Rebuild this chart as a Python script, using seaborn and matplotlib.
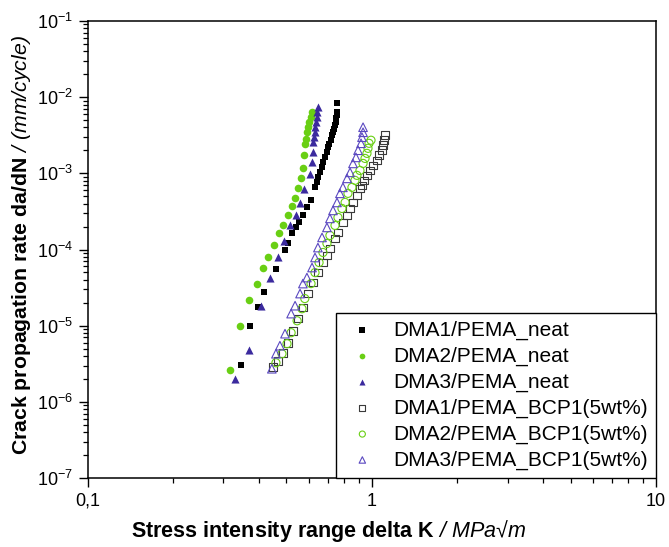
import numpy as np
import matplotlib
matplotlib.use("Agg")
import matplotlib.pyplot as plt
import seaborn as sns

# ---------------- data ----------------
labels = ["DMA1/PEMA_neat", "DMA2/PEMA_neat", "DMA3/PEMA_neat",
          "DMA1/PEMA_BCP1(5wt%)", "DMA2/PEMA_BCP1(5wt%)", "DMA3/PEMA_BCP1(5wt%)"]

dma1_neat_dk = [0.346, 0.372, 0.396, 0.418, 0.458, 0.494, 0.507, 0.524, 0.540, 0.553, 0.573,
                0.589, 0.610, 0.630, 0.639, 0.647, 0.656, 0.665, 0.674, 0.683, 0.692, 0.701,
                0.707, 0.715, 0.724, 0.730, 0.736, 0.740, 0.745, 0.746, 0.751, 0.751, 0.755]
dma1_neat_rate = [3.07e-6, 1.0e-5, 1.74e-5, 2.74e-5, 5.57e-5, 1.0e-4, 1.21e-4, 1.64e-4, 1.95e-4,
                  2.29e-4, 2.80e-4, 3.60e-4, 4.41e-4, 6.61e-4, 7.69e-4, 8.94e-4, 1.04e-3, 1.21e-3,
                  1.41e-3, 1.64e-3, 1.91e-3, 2.22e-3, 2.46e-3, 2.78e-3, 3.16e-3, 3.49e-3, 3.87e-3,
                  4.28e-3, 4.73e-3, 5.25e-3, 5.79e-3, 6.41e-3, 8.26e-3]

dma2_neat_dk = [0.316, 0.342, 0.369, 0.393, 0.414, 0.432, 0.453, 0.471, 0.487, 0.507, 0.521,
                0.536, 0.548, 0.561, 0.570, 0.576, 0.580, 0.585, 0.592, 0.596, 0.601, 0.608, 0.613]
dma2_neat_rate = [2.64e-6, 1.0e-5, 2.18e-5, 3.54e-5, 5.74e-5, 8.09e-5, 1.15e-4, 1.64e-4, 2.11e-4,
                  2.80e-4, 3.71e-4, 4.79e-4, 6.48e-4, 8.78e-4, 1.19e-3, 1.73e-3, 2.46e-3, 2.86e-3,
                  3.49e-3, 4.07e-3, 4.73e-3, 5.51e-3, 6.41e-3]

dma3_neat_dk = [0.329, 0.369, 0.407, 0.437, 0.466, 0.491, 0.515, 0.539, 0.559, 0.577, 0.605,
                0.613, 0.618, 0.621, 0.625, 0.628, 0.631, 0.635, 0.639, 0.642, 0.644]
dma3_neat_rate = [2.01e-6, 4.79e-6, 1.83e-5, 4.25e-5, 7.92e-5, 1.29e-4, 2.07e-4, 2.80e-4, 4.07e-4,
                  6.29e-4, 9.91e-4, 1.41e-3, 1.91e-3, 2.58e-3, 3.0e-3, 3.49e-3, 4.07e-3, 4.73e-3,
                  5.51e-3, 6.41e-3, 7.45e-3]

dma1_bcp_dk = [0.448, 0.467, 0.486, 0.506, 0.527, 0.549, 0.571, 0.595, 0.620, 0.645, 0.672,
               0.694, 0.711, 0.741, 0.759, 0.790, 0.817, 0.837, 0.857, 0.885, 0.907, 0.922,
               0.937, 0.960, 0.984, 1.008, 1.041, 1.058, 1.084, 1.093, 1.102, 1.111]
dma1_bcp_rate = [2.89e-6, 3.46e-6, 4.41e-6, 5.97e-6, 8.59e-6, 1.24e-5, 1.73e-5, 2.64e-5, 3.68e-5,
                 4.98e-5, 6.75e-5, 8.34e-5, 1.03e-4, 1.40e-4, 1.67e-4, 2.27e-4, 2.80e-4, 3.46e-4,
                 4.15e-4, 5.14e-4, 6.35e-4, 6.95e-4, 8.09e-4, 9.41e-4, 1.09e-3, 1.27e-3, 1.48e-3,
                 1.73e-3, 2.01e-3, 2.34e-3, 2.72e-3, 3.16e-3]

dma2_bcp_dk = [0.459, 0.482, 0.502, 0.519, 0.545, 0.567, 0.580, 0.610, 0.630, 0.651, 0.672,
               0.694, 0.711, 0.741, 0.759, 0.784, 0.804, 0.823, 0.850, 0.871, 0.885, 0.907,
               0.930, 0.945, 0.960, 0.968, 0.976, 0.992]
dma2_bcp_rate = [3.26e-6, 4.28e-6, 5.80e-6, 8.09e-6, 1.16e-5, 1.67e-5, 2.27e-5, 3.57e-5, 4.98e-5,
                 6.75e-5, 9.14e-5, 1.20e-4, 1.53e-4, 2.07e-4, 2.64e-4, 3.46e-4, 4.15e-4, 5.46e-4,
                 6.55e-4, 8.09e-4, 9.41e-4, 1.09e-3, 1.35e-3, 1.57e-3, 1.83e-3, 2.13e-3, 2.48e-3,
                 2.72e-3]

dma3_bcp_dk = [0.444, 0.459, 0.474, 0.494, 0.519, 0.536, 0.558, 0.571, 0.590, 0.615, 0.630,
               0.645, 0.667, 0.694, 0.711, 0.729, 0.753, 0.771, 0.790, 0.817, 0.837, 0.857,
               0.878, 0.893, 0.915, 0.922, 0.930, 0.930]
dma3_bcp_rate = [2.72e-6, 4.28e-6, 5.46e-6, 7.85e-6, 1.44e-5, 1.83e-5, 2.64e-5, 3.57e-5, 4.28e-5,
                 5.80e-5, 7.85e-5, 1.06e-4, 1.44e-4, 1.95e-4, 2.56e-4, 3.26e-4, 4.15e-4, 5.46e-4,
                 6.55e-4, 8.59e-4, 1.03e-3, 1.35e-3, 1.62e-3, 2.01e-3, 2.48e-3, 2.98e-3, 3.46e-3,
                 4.03e-3]

x_ticks = [0.1, 1, 10]
x_tick_labels = ["0,1", "1", "10"]

# ---------------- style ----------------
sns.set_theme(style="ticks")
plt.rcParams["font.family"] = ["Liberation Sans", "DejaVu Sans"]
plt.rcParams["mathtext.fontset"] = "custom"
plt.rcParams["mathtext.rm"] = "Liberation Sans"
plt.rcParams["mathtext.it"] = "Liberation Sans:italic"
plt.rcParams["mathtext.bf"] = "Liberation Sans:bold"
plt.rcParams["axes.unicode_minus"] = False
plt.rcParams["text.color"] = "black"
plt.rcParams["axes.labelcolor"] = "black"
plt.rcParams["xtick.color"] = "black"
plt.rcParams["ytick.color"] = "black"

fig = plt.figure(figsize=(6.69, 5.47), dpi=100)
ax = fig.add_axes([0.1315, 0.1261, 0.8491, 0.8355])
ax.set_xscale("log")
ax.set_yscale("log")

black = "#000000"
green = "#69cf14"
purple = "#3b2a9e"
gray = "#3a3a3a"
lpurple = "#5a48c0"

series = [
    (dma1_neat_dk, dma1_neat_rate, "s", black, black, 24),
    (dma2_neat_dk, dma2_neat_rate, "o", green, green, 30),
    (dma3_neat_dk, dma3_neat_rate, "^", purple, purple, 34),
    (dma1_bcp_dk, dma1_bcp_rate, "s", "none", gray, 30),
    (dma2_bcp_dk, dma2_bcp_rate, "o", "none", green, 34),
    (dma3_bcp_dk, dma3_bcp_rate, "^", "none", lpurple, 38),
]

for (dk, rate, mk, fc, ec, s), lab in zip(series, labels):
    lw = 0 if fc != "none" else 0.8
    sns.scatterplot(x=dk, y=rate, ax=ax, marker=mk, s=s, color=ec,
                    facecolor=fc, edgecolor=ec, linewidth=lw, label=lab, legend=False)

ax.set_xlim(0.1, 10)
ax.set_ylim(1e-7, 1e-1)
ax.set_xticks(x_ticks)
ax.set_xticklabels(x_tick_labels)

for sp in ax.spines.values():
    sp.set_visible(True)
    sp.set_linewidth(1.1)
    sp.set_color("black")

ax.tick_params(which="major", direction="out", length=6.5, width=1.0, labelsize=13, pad=4)
ax.tick_params(which="minor", direction="out", length=3.5, width=0.9)
ax.tick_params(top=False, right=False, which="both")

ax.set_xlabel(r"$\mathbf{Stress\ intensity\ range\ delta\ K}$ / MPa√m",
              fontsize=15.5, fontstyle="italic")
ax.set_ylabel(r"$\mathbf{Crack\ propagation\ rate\ da/dN}$ / (mm/cycle)",
              fontsize=15.3, fontstyle="italic")
ax.xaxis.set_label_coords(0.423, -0.088)
ax.yaxis.set_label_coords(-0.097, 0.51)

leg = ax.legend(loc="lower right", borderaxespad=0, fontsize=15, frameon=True,
                fancybox=False, edgecolor="black", handlelength=1.75, handletextpad=0.6,
                labelspacing=0.32, borderpad=0.4, scatterpoints=1, markerscale=0.75)
leg.get_frame().set_linewidth(1.0)
leg.get_frame().set_alpha(1)

fig.savefig("out.png", dpi=100)
